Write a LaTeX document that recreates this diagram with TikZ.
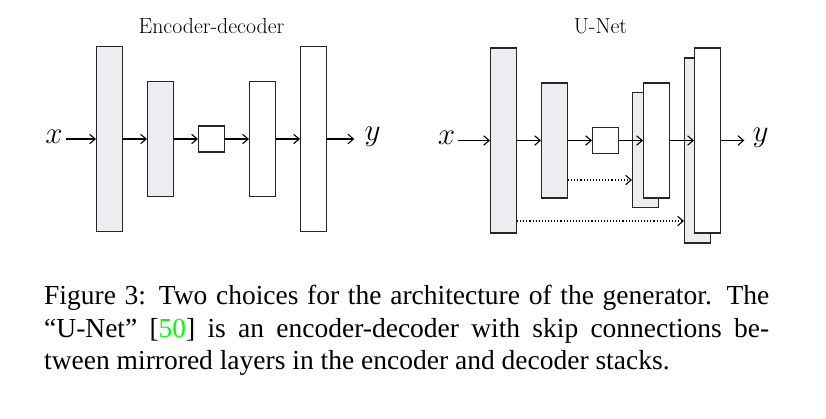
\documentclass[tikz,border=0pt]{standalone}
\usepackage{fontspec}
\usepackage{graphicx}
\usetikzlibrary{arrows.meta}
\newfontfamily\capfont{Liberation Serif}
\definecolor{boxgray}{RGB}{236,237,240}
\definecolor{citegreen}{RGB}{0,255,0}
\newcommand{\biglbl}[1]{\scalebox{1.25}{$#1$}}
\begin{document}
\begin{tikzpicture}[x=1pt,y=-1pt,
  lay/.style={draw=black!85, line width=1.1pt, minimum width=26pt, inner sep=0pt},
  enc/.style={lay, fill=boxgray},
  dec/.style={lay, fill=white},
  tip/.style={-{Straight Barb[length=5.5pt,width=9.5pt,line width=1.1pt]}},
  arr/.style={tip, line width=1.1pt},
  skip/.style={tip, dotted, line width=1.1pt},
  ttl/.style={font=\fontsize{21.8}{23}\selectfont, anchor=base, inner sep=0pt},
  lbl/.style={font=\fontsize{24.88}{26}\selectfont, inner ysep=0pt},
  capline/.style={font=\capfont\fontsize{27.5}{32.5}\selectfont, anchor=base west, inner sep=0pt}]
\useasboundingbox (0,0) rectangle (826,418);

% ---------- Encoder-decoder ----------
\node[ttl] (t1) at (211.5,33) {Encoder-decoder};
\node[enc, minimum height=185pt] (e1) at (109.5,139) {};
\node[enc, minimum height=115pt] (e2) at (160.5,139) {};
\node[dec, minimum height=26pt]  (e3) at (211.5,139) {};
\node[dec, minimum height=115pt] (e4) at (262.5,139) {};
\node[dec, minimum height=185pt] (e5) at (313.5,139) {};
\node[lbl, inner xsep=3pt]  (ex) at (54,136.5) {\biglbl{x}};
\node[lbl, inner xsep=10pt] (ey) at (372.5,136.5) {\biglbl{y}};
\draw[arr] (ex.east |- e1) -- (e1);
\draw[arr] (e1) -- (e2);
\draw[arr] (e2) -- (e3);
\draw[arr] (e3) -- (e4);
\draw[arr] (e4) -- (e5);
\draw[arr] (e5) -- (ey.west |- e5);

% ---------- U-Net ----------
\node[ttl] (t2) at (600.5,33) {U-Net};
\node[enc, minimum height=185pt] (u1) at (503.5,140.5) {};
\node[enc, minimum height=115pt] (u2) at (554.5,140.5) {};
\node[dec, minimum height=26pt]  (u3) at (605.5,140.5) {};
\node[enc, minimum height=115pt] (u4b) at (645.5,150) {};
\node[dec, minimum height=115pt] (u4) at (656.5,140.5) {};
\node[enc, minimum height=185pt] (u5b) at (697.5,150.5) {};
\node[dec, minimum height=185pt] (u5) at (707.5,140.5) {};
\node[lbl, inner xsep=3pt] (ux) at (446.5,137.5) {\biglbl{x}};
\node[lbl, inner xsep=8pt] (uy) at (760.5,137.5) {\biglbl{y}};
\draw[arr] (ux.east |- u1) -- (u1);
\draw[arr] (u1) -- (u2);
\draw[arr] (u2) -- (u3);
\draw[arr] (u3) -- (u4);
\draw[arr] (u4) -- (u5);
\draw[arr] (u5) -- (uy.west |- u5);
\coordinate (s1) at (0,180);
\coordinate (s2) at (0,221);
\draw[skip] (u2.east |- s1) -- (u4b.west |- s1);
\draw[skip] (u1.east |- s2) -- (u5b.west |- s2);

% ---------- Caption ----------
\node[capline] (c1) at (44,304.5) {\hbox to 725pt{Figure 3: Two choices for the architecture of the generator. The}};
\node[capline] (c2) at (44,337) {\hbox to 725pt{“U-Net” [\textcolor{citegreen}{50}] is an encoder-decoder with skip connections be-}};
\node[capline] (c3) at (44,369.5) {tween mirrored layers in the encoder and decoder stacks.};
\end{tikzpicture}
\end{document}
